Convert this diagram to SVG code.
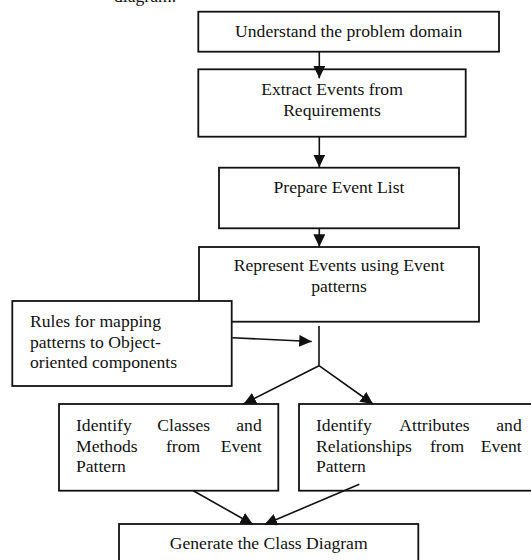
<svg xmlns="http://www.w3.org/2000/svg" width="531" height="560" viewBox="0 0 531 560">
  <style>
    .box { fill: #ffffff; stroke: #111111; stroke-width: 1.8; }
    .txt { font-family: "Liberation Serif", "Times New Roman", serif; font-size: 17.6px; fill: #111111; }
    .mid { text-anchor: middle; }
    .end { text-anchor: end; }
    .wire { fill: none; stroke: #111111; stroke-width: 1.6; }
    .arrow { marker-end: url(#head); }
  </style>
  <defs>
    <marker id="head" markerUnits="userSpaceOnUse" markerWidth="13" markerHeight="12" refX="12.5" refY="6" orient="auto">
      <path d="M0,0 L12.5,6 L0,12 z" fill="#111111"/>
    </marker>
  </defs>

  <rect width="531" height="560" fill="#ffffff"/>

  <!-- tail of the preceding paragraph, cut at the top edge -->
  <text class="txt" x="114" y="1.5" fill="#555555">diagram.</text>

  <g id="understand">
    <rect class="box" x="198.3" y="11.7" width="300.7" height="40"/>
    <text class="txt mid" x="348.7" y="37">Understand the problem domain</text>
  </g>

  <g id="extract">
    <rect class="box" x="198.3" y="69.3" width="267.4" height="67.4"/>
    <text class="txt mid" x="332" y="95">Extract Events from</text>
    <text class="txt mid" x="332" y="115.7">Requirements</text>
  </g>

  <g id="prepare">
    <rect class="box" x="219" y="167.7" width="240" height="60.6"/>
    <text class="txt mid" x="339" y="192.7">Prepare Event List</text>
  </g>

  <g id="represent">
    <rect class="box" x="199" y="247" width="280" height="74.7"/>
    <text class="txt mid" x="339" y="271">Represent Events using Event</text>
    <text class="txt mid" x="339" y="291.7">patterns</text>
  </g>

  <g id="rules">
    <rect class="box" x="12.3" y="301" width="219.4" height="85"/>
    <text class="txt" x="30" y="327.3">Rules for mapping</text>
    <text class="txt" x="30" y="347.7">patterns to Object-</text>
    <text class="txt" x="30" y="368.3">oriented components</text>
  </g>

  <g id="classes">
    <rect class="box" x="59" y="404" width="219.3" height="86.7"/>
    <text class="txt" x="76" y="430.7">Identify</text>
    <text class="txt" x="157.3" y="430.7">Classes</text>
    <text class="txt end" x="261.7" y="430.7">and</text>
    <text class="txt" x="76" y="451.7">Methods</text>
    <text class="txt" x="166" y="451.7">from</text>
    <text class="txt end" x="261.7" y="451.7">Event</text>
    <text class="txt" x="76" y="472.3">Pattern</text>
  </g>

  <g id="attributes">
    <rect class="box" x="299" y="404" width="240" height="86.7"/>
    <text class="txt" x="316" y="430.7">Identify</text>
    <text class="txt" x="399.3" y="430.7">Attributes</text>
    <text class="txt end" x="521.7" y="430.7">and</text>
    <text class="txt" x="316" y="451.7">Relationships</text>
    <text class="txt" x="430" y="451.7">from</text>
    <text class="txt end" x="521.7" y="451.7">Event</text>
    <text class="txt" x="316" y="472.3">Pattern</text>
  </g>

  <g id="generate">
    <rect class="box" x="119" y="524" width="299.3" height="50"/>
    <text class="txt mid" x="268.7" y="549.3">Generate the Class Diagram</text>
  </g>

  <g id="connectors">
    <line class="wire arrow" x1="319.3" y1="51.7" x2="319.3" y2="78.3"/>
    <line class="wire arrow" x1="319.3" y1="136.7" x2="319.3" y2="167.2"/>
    <line class="wire arrow" x1="319.3" y1="228.3" x2="319.3" y2="246.8"/>
    <line class="wire" x1="319" y1="326" x2="319" y2="365.7"/>
    <line class="wire arrow" x1="232.3" y1="337.7" x2="311.7" y2="341.5"/>
    <line class="wire arrow" x1="319" y1="365.7" x2="243.5" y2="404"/>
    <line class="wire arrow" x1="319" y1="365.7" x2="373" y2="404"/>
    <line class="wire arrow" x1="193.3" y1="490.7" x2="253" y2="524.5"/>
    <line class="wire arrow" x1="359.3" y1="484.3" x2="264.5" y2="524.5"/>
  </g>
</svg>
